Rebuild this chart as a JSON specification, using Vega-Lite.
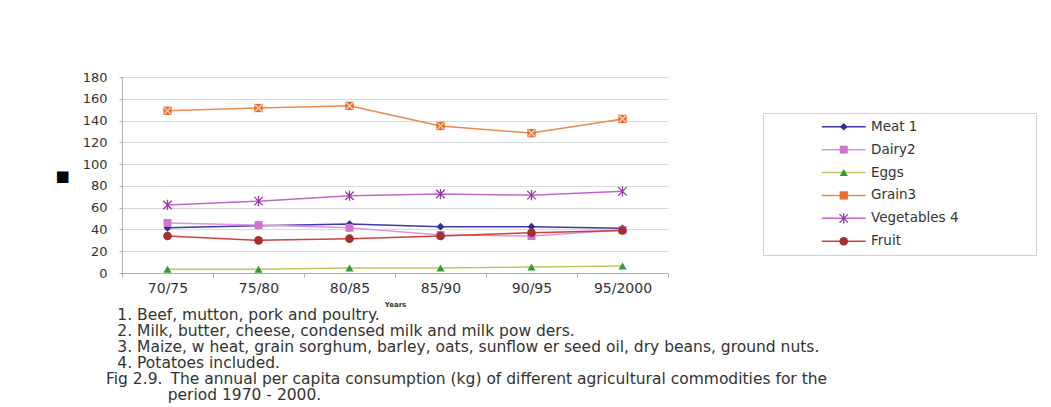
{
  "$schema": "https://vega.github.io/schema/vega-lite/v6.json",
  "width": 546,
  "height": 196,
  "autosize": {"type": "none"},
  "padding": {"left": 122, "top": 77, "right": 383, "bottom": 134},
  "background": "white",
  "config": {
    "font": "DejaVu Sans",
    "view": {"stroke": null}
  },
  "title": {
    "text": [
      "\u28001. Beef, mutton, pork and poultry.",
      "\u28002. Milk, butter, cheese, condensed milk and milk pow ders.",
      "\u28003. Maize, w heat, grain sorghum, barley, oats, sunflow er seed oil, dry beans, ground nuts.",
      "\u28004. Potatoes included.",
      "Fig 2.9.\u00a0\u2009The annual per capita consumption (kg) of different agricultural commodities for the",
      "\u2800\u2800\u2800\u2800\u2800\u00a0period 1970 - 2000."
    ],
    "orient": "bottom",
    "anchor": "start",
    "frame": "group",
    "dx": -16,
    "offset": 1,
    "font": "DejaVu Sans",
    "fontSize": 15.5,
    "fontWeight": "normal",
    "color": "#333333",
    "lineHeight": 16
  },
  "data": {
    "values": [
      {"period": "70/75", "series": "Meat 1", "value": 41.5},
      {"period": "75/80", "series": "Meat 1", "value": 43.5},
      {"period": "80/85", "series": "Meat 1", "value": 45},
      {"period": "85/90", "series": "Meat 1", "value": 42.5},
      {"period": "90/95", "series": "Meat 1", "value": 42.5},
      {"period": "95/2000", "series": "Meat 1", "value": 41},
      {"period": "70/75", "series": "Dairy2", "value": 46},
      {"period": "75/80", "series": "Dairy2", "value": 44},
      {"period": "80/85", "series": "Dairy2", "value": 41.5},
      {"period": "85/90", "series": "Dairy2", "value": 35},
      {"period": "90/95", "series": "Dairy2", "value": 34},
      {"period": "95/2000", "series": "Dairy2", "value": 39.5},
      {"period": "70/75", "series": "Eggs", "value": 3.5},
      {"period": "75/80", "series": "Eggs", "value": 3.5},
      {"period": "80/85", "series": "Eggs", "value": 4.5},
      {"period": "85/90", "series": "Eggs", "value": 4.5},
      {"period": "90/95", "series": "Eggs", "value": 5.5},
      {"period": "95/2000", "series": "Eggs", "value": 6.5},
      {"period": "70/75", "series": "Grain3", "value": 149},
      {"period": "75/80", "series": "Grain3", "value": 151.5},
      {"period": "80/85", "series": "Grain3", "value": 153.5},
      {"period": "85/90", "series": "Grain3", "value": 135},
      {"period": "90/95", "series": "Grain3", "value": 128.5},
      {"period": "95/2000", "series": "Grain3", "value": 141.5},
      {"period": "70/75", "series": "Vegetables 4", "value": 62.5},
      {"period": "75/80", "series": "Vegetables 4", "value": 66},
      {"period": "80/85", "series": "Vegetables 4", "value": 71},
      {"period": "85/90", "series": "Vegetables 4", "value": 72.5},
      {"period": "90/95", "series": "Vegetables 4", "value": 71.5},
      {"period": "95/2000", "series": "Vegetables 4", "value": 75},
      {"period": "70/75", "series": "Fruit", "value": 34},
      {"period": "75/80", "series": "Fruit", "value": 30},
      {"period": "80/85", "series": "Fruit", "value": 31.5},
      {"period": "85/90", "series": "Fruit", "value": 34},
      {"period": "90/95", "series": "Fruit", "value": 37},
      {"period": "95/2000", "series": "Fruit", "value": 39}
    ]
  },
  "encoding": {
    "x": {
      "field": "period",
      "type": "ordinal",
      "sort": null,
      "scale": {"type": "band", "paddingInner": 0, "paddingOuter": 0},
      "axis": {
        "title": "Years",
        "titleFontSize": 7,
        "titleFontWeight": "bold",
        "titleColor": "#333333",
        "titlePadding": 5,
        "labelAngle": 0,
        "labelFont": "DejaVu Sans",
        "labelFontSize": 14,
        "labelColor": "#333333",
        "labelPadding": 4,
        "tickBand": "extent",
        "tickSize": 4,
        "tickColor": "#b0b0b0",
        "domainColor": "#b0b0b0",
        "grid": false
      }
    },
    "y": {
      "field": "value",
      "type": "quantitative",
      "scale": {"domain": [0, 180], "nice": false},
      "axis": {
        "values": [0, 20, 40, 60, 80, 100, 120, 140, 160, 180],
        "title": "\u25a0",
        "titleAngle": 0,
        "titleX": -60,
        "titleY": 98,
        "titleAlign": "center",
        "titleBaseline": "middle",
        "titleFontSize": 15,
        "titleFontWeight": "normal",
        "titleColor": "#000000",
        "labelFont": "DejaVu Sans",
        "labelFontSize": 13,
        "labelColor": "#333333",
        "labelPadding": 12,
        "tickSize": 3,
        "tickColor": "#b0b0b0",
        "domainColor": "#b0b0b0",
        "grid": true,
        "gridColor": "#dadada"
      }
    }
  },
  "layer": [
    {
      "mark": {"type": "line", "strokeWidth": 1.5},
      "encoding": {
        "stroke": {
          "field": "series",
          "type": "nominal",
          "sort": ["Meat 1", "Dairy2", "Eggs", "Grain3", "Vegetables 4", "Fruit"],
          "scale": {
            "range": ["#3a3aa8", "#e095e0", "#c4c45a", "#f0884a", "#c666cc", "#cc4040"]
          },
          "legend": {
            "orient": "none",
            "legendX": 641,
            "legendY": 36,
            "title": null,
            "symbolType": "M-4,0H4",
            "symbolSize": 121,
            "symbolStrokeWidth": 1.5,
            "symbolOffset": 67,
            "labelOffset": 20.5,
            "labelExpr": "''",
            "rowPadding": 7.9,
            "padding": 7,
            "labelFont": "DejaVu Sans",
            "labelFontSize": 13.5,
            "zindex": 1
          }
        }
      }
    },
    {
      "mark": {"type": "point", "filled": true, "opacity": 1},
      "encoding": {
        "color": {
          "field": "series",
          "type": "nominal",
          "scale": {
            "domain": ["Meat 1", "Dairy2", "Eggs", "Grain3", "Vegetables 4", "Fruit"],
            "range": ["#2e3192", "#cc77cc", "#33993a", "#ee6a2a", "#9933aa", "#a32f2f"]
          },
          "legend": {
            "orient": "none",
            "legendX": 641,
            "legendY": 36,
            "title": "\u2800\u2800\u2800\u2800\u2800\u2800",
            "titleOrient": "right",
            "titleFontSize": 13.5,
            "titlePadding": 7,
            "symbolSize": 80,
            "symbolOffset": 67,
            "labelOffset": 20.5,
            "rowPadding": 7.9,
            "padding": 7,
            "strokeColor": "#d0d0d0",
            "labelFont": "DejaVu Sans",
            "labelFontSize": 13.5,
            "labelColor": "#333333",
            "labelLimit": 300,
            "zindex": 2
          }
        },
        "shape": {
          "field": "series",
          "type": "nominal",
          "scale": {
            "domain": ["Meat 1", "Dairy2", "Eggs", "Grain3", "Vegetables 4", "Fruit"],
            "range": [
              "diamond",
              "square",
              "triangle-up",
              "square",
              "M-0.894,-1.106L1.106,0.894L0.894,1.106L-1.106,-0.894Z M-0.894,1.106L-1.106,0.894L0.894,-1.106L1.106,-0.894Z M-0.15,-1.2L0.15,-1.2L0.15,1.2L-0.15,1.2Z",
              "circle"
            ]
          }
        },
        "size": {
          "field": "series",
          "type": "nominal",
          "scale": {
            "domain": ["Meat 1", "Dairy2", "Eggs", "Grain3", "Vegetables 4", "Fruit"],
            "range": [60, 75, 75, 225, 85, 120]
          },
          "legend": null
        }
      }
    },
    {
      "transform": [{"filter": "datum.series === 'Grain3'"}],
      "mark": {
        "type": "point",
        "filled": false,
        "shape": "M-1,-1L1,1M-1,1L1,-1",
        "size": 45,
        "stroke": "#f9d6b8",
        "strokeWidth": 1.3,
        "opacity": 1
      }
    }
  ]
}
